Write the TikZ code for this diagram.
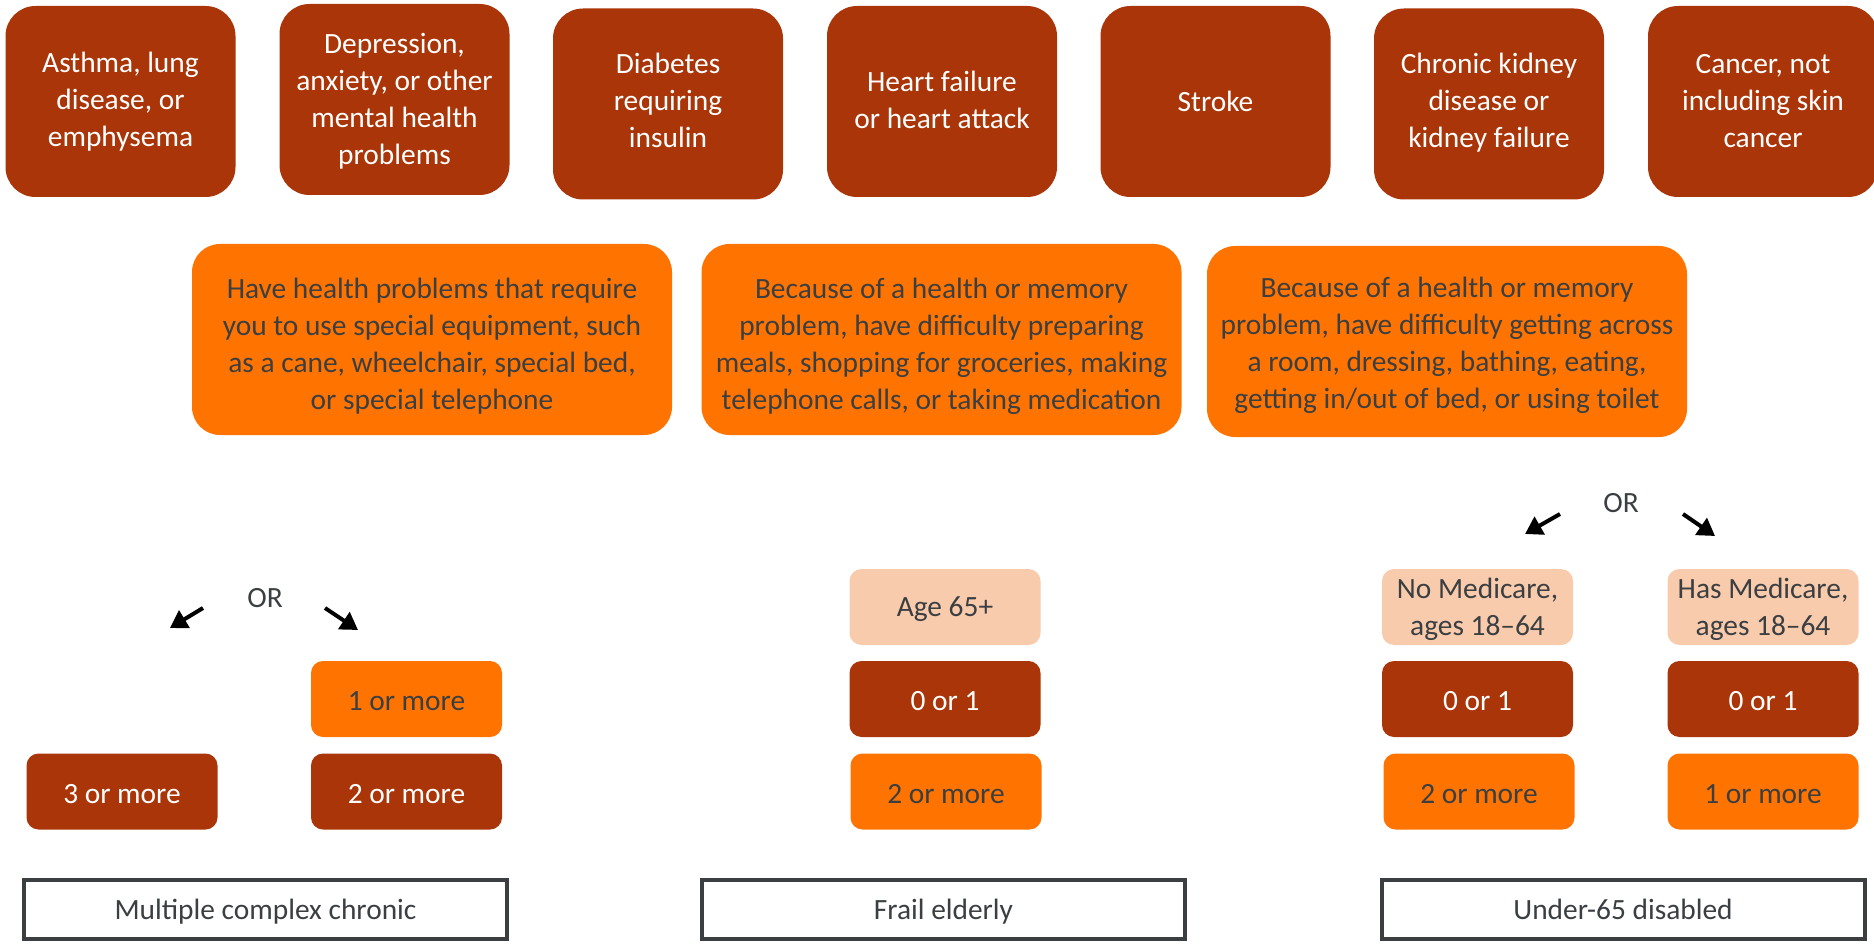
\documentclass[tikz,border=0pt]{standalone}
\usepackage{fontspec}
\setmainfont{Carlito}
\usepackage{xcolor}
\usetikzlibrary{arrows.meta}

\definecolor{rust}{HTML}{A93508}
\definecolor{tangerine}{HTML}{FF7300}
\definecolor{peach}{HTML}{F8CBAD}
\definecolor{ink}{HTML}{3B3F42}

\begin{document}
\begin{tikzpicture}[x=1pt, y=-1pt, font=\fontsize{29.4}{37}\selectfont,
  condition/.style={fill=rust, text=white, rounded corners=30pt, minimum width=230pt, minimum height=191pt, align=center, inner sep=0pt},
  need/.style={fill=tangerine, text=ink, rounded corners=28pt, minimum width=480pt, minimum height=191pt, align=center, inner sep=0pt, text height=139pt, text depth=0pt},
  tag/.style={rounded corners=12pt, minimum width=191pt, minimum height=76pt, align=center, inner sep=0pt},
  tagdark/.style={tag, fill=rust, text=white, text height=23pt, text depth=0pt},
  tagorange/.style={tag, fill=tangerine, text=ink, text height=23pt, text depth=0pt},
  tagpeach/.style={tag, fill=peach, text=ink, text depth=0.5pt},
  group/.style={draw=ink, line width=4pt, fill=white, text=ink, minimum width=483pt, minimum height=59pt, inner sep=0pt, text depth=0.7pt},
  orarrow/.style={line width=4pt, -{Triangle[length=17pt, width=20pt]}}]
  \useasboundingbox (0,0) rectangle (1874,944);

  % chronic conditions
  \node[condition] (asthma) at (120.5,101.5) {Asthma, lung\\disease, or\\emphysema};
  \node[condition, text depth=1pt] (mental) at (394.5,99.5) {Depression,\\anxiety, or other\\mental health\\problems};
  \node[condition, text depth=7pt] (diabetes) at (668,104) {Diabetes\\requiring\\insulin};
  \node[condition, text depth=2.5pt] (heart) at (942,101.5) {Heart failure\\or heart attack};
  \node[condition] (stroke) at (1215.5,101.5) {Stroke};
  \node[condition, text depth=8pt] (kidney) at (1489,104) {Chronic kidney\\disease or\\kidney failure};
  \node[condition] (cancer) at (1763,101.5) {Cancer, not\\including skin\\cancer};

  % functional limitations
  \node[need] (equip) at (432,339.5) {Have health problems that require\\you to use special equipment, such\\as a cane, wheelchair, special bed,\\or special telephone};
  \node[need] (iadl) at (941.5,339.5) {Because of a health or memory\\problem, have difficulty preparing\\meals, shopping for groceries, making\\telephone calls, or taking medication};
  \node[need, text height=134pt] (adl) at (1447,341.5) {Because of a health or memory\\problem, have difficulty getting across\\a room, dressing, bathing, eating,\\getting in/out of bed, or using toilet};

  % multiple complex chronic
  \node[text=ink] (orleft) at (265,598) {OR};
  \coordinate (orleft-a) at (203,608);
  \coordinate (orleft-b) at (170,628);
  \coordinate (orleft-c) at (325,608);
  \coordinate (orleft-d) at (358,630);
  \draw[orarrow] (orleft-a) -- (orleft-b);
  \draw[orarrow] (orleft-c) -- (orleft-d);
  \node[tagdark] (mc3) at (122,791.5) {3 or more};
  \node[tagorange] (mc1) at (406.5,699) {1 or more};
  \node[tagdark] (mc2) at (406.5,791.5) {2 or more};

  % frail elderly
  \node[tagpeach, text height=18pt, text depth=0pt] (age) at (945,607) {Age 65+};
  \node[tagdark] (fe01) at (945,699) {0 or 1};
  \node[tagorange] (fe2) at (946,791.5) {2 or more};

  % under-65 disabled
  \node[text=ink] (orright) at (1621,503) {OR};
  \coordinate (orright-a) at (1560,514);
  \coordinate (orright-b) at (1525,534);
  \coordinate (orright-c) at (1683,514);
  \coordinate (orright-d) at (1715,536);
  \draw[orarrow] (orright-a) -- (orright-b);
  \draw[orarrow] (orright-c) -- (orright-d);
  \node[tagpeach] (nomed) at (1477.5,607) {No Medicare,\\ages 18–64};
  \node[tagdark] (nomed01) at (1477.5,699) {0 or 1};
  \node[tagorange] (nomed2) at (1479,791.5) {2 or more};
  \node[tagpeach] (hasmed) at (1763,607) {Has Medicare,\\ages 18–64};
  \node[tagdark] (hasmed01) at (1763,699) {0 or 1};
  \node[tagorange] (hasmed1) at (1763,791.5) {1 or more};

  % groups
  \node[group] (mcc) at (265.5,909.5) {Multiple complex chronic};
  \node[group] (frail) at (943.5,909.5) {Frail elderly};
  \node[group] (under) at (1623,909.5) {Under-65 disabled};
\end{tikzpicture}
\end{document}
